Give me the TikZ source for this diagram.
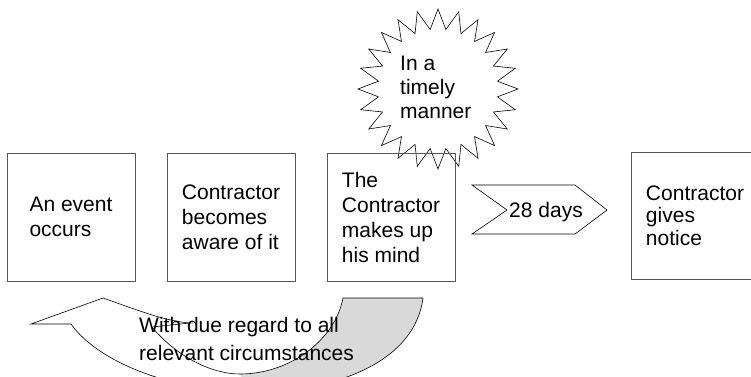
\documentclass[tikz,border=0pt]{standalone}
\usepackage{fontspec}
\setmainfont{Liberation Sans}
\definecolor{bandgrey}{HTML}{D9D9D9}
\definecolor{boxline}{HTML}{555555}
\begin{document}
\begin{tikzpicture}[x=1pt,y=-1pt,line join=miter,
  box/.style={draw=boxline,line width=0.9pt,minimum width=128pt,minimum height=128pt,
    inner sep=0pt,align=left,font=\fontsize{21}{25}\selectfont},
  txt/.style={align=left,inner sep=0pt,font=\fontsize{21}{25}\selectfont},
  outline/.style={draw=black,line width=0.6pt}]
\useasboundingbox (0,0) rectangle (751,376);
\clip (0,0) rectangle (751,376);
% starburst
\draw[outline] (518,89) \foreach \k in {1,...,47} {
   -- ({438+ifthenelse(mod(\k,2)==0,80,60)*cos(7.5*\k)},{89+ifthenelse(mod(\k,2)==0,80,60)*sin(7.5*\k)}) } -- cycle;
\node[txt,anchor=base west,font=\fontsize{21}{24}\selectfont] (timely) at (400,118) {In a\\timely\\manner};
% boxes
\node[box] (event) at (71,217) {An event\\occurs};
\node[box] (aware) at (231,217) {Contractor\\becomes\\aware of it};
\node[box] (mind) at (391,217) {The\\Contractor\\makes up\\his mind};
\node[box,minimum height=127pt,font=\fontsize{21}{22.5}\selectfont] (notice) at (695,215.5) {Contractor\\gives\\notice};
% chevron
\draw[outline] (472,185) -- (575,185) -- (607,210) -- (575,234) -- (472,234) -- (507,210) -- cycle;
\node[txt,anchor=base] (days) at (546,217) {28 days};
% curved arrow
\fill[bandgrey] (240,374) .. controls (290,374) and (335,340) .. (343,298) -- (423,298)
   .. controls (415,360) and (340,392) .. (250,392) -- cycle;
\draw[outline] (71,324) .. controls (100,365) and (180,392) .. (250,392)
   .. controls (340,392) and (415,360) .. (423,298);
\draw[outline] (152,327) .. controls (175,355) and (210,374) .. (240,374)
   .. controls (290,374) and (335,340) .. (343,298) -- (423,298);
\draw[outline] (71,324) -- (31,324) -- (103,298) .. controls (140,311) and (165,321) .. (190,323) -- (152,327);
\node[txt,anchor=base west,font=\fontsize{21}{28}\selectfont] (regard) at (139,360) {With due regard to all\\relevant circumstances};
\end{tikzpicture}
\end{document}
